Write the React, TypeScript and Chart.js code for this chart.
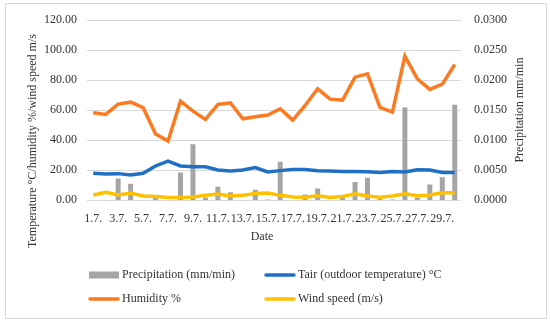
import React, { useEffect, useRef } from "react";
import { Chart, registerables } from "chart.js";

Chart.register(...registerables);

const dates = [
  "1.7.", "2.7.", "3.7.", "4.7.", "5.7.", "6.7.", "7.7.", "8.7.", "9.7.", "10.7.",
  "11.7.", "12.7.", "13.7.", "14.7.", "15.7.", "16.7.", "17.7.", "18.7.", "19.7.", "20.7.",
  "21.7.", "22.7.", "23.7.", "24.7.", "25.7.", "26.7.", "27.7.", "28.7.", "29.7.", "30.7.",
];

const precipitation = [
  0, 0, 0.0036, 0.0027, 0, 0.0004, 0, 0.0046, 0.0093, 0.0004,
  0.0022, 0.0013, 0, 0.0017, 0.0001, 0.0064, 0, 0.0009, 0.0019, 0,
  0.0004, 0.003, 0.0037, 0.0002, 0.0001, 0.01545, 0.0004, 0.0026, 0.0038, 0.0159,
];

const tair = [
  17.8, 17.3, 17.6, 16.7, 17.8, 22.7, 26.0, 22.7, 22.2, 22.2,
  20.0, 19.3, 20.0, 21.6, 18.7, 19.6, 20.4, 20.4, 19.6, 19.3,
  19.1, 19.1, 18.9, 18.4, 19.1, 18.7, 20.2, 20.0, 18.4, 18.4,
];

const humidity = [
  58.2, 57.1, 64.0, 65.3, 61.6, 44.0, 39.3, 66.0, 59.3, 53.8,
  63.8, 64.9, 54.2, 55.6, 56.7, 60.9, 53.3, 63.1, 74.2, 67.3,
  66.7, 82.0, 84.2, 61.8, 58.7, 96.0, 80.9, 73.8, 77.3, 90.4,
];

const windSpeed = [
  3.3, 5.1, 3.3, 4.7, 2.7, 2.4, 1.6, 1.6, 2.0, 3.1,
  4.0, 2.7, 3.1, 4.3, 4.7, 3.1, 2.0, 1.8, 2.9, 1.6,
  2.4, 4.2, 2.7, 1.8, 2.7, 4.2, 2.9, 3.3, 4.9, 4.9,
];

const leftTicks = [0, 20, 40, 60, 80, 100, 120];
const rightTicks = [0, 0.005, 0.01, 0.015, 0.02, 0.025, 0.03];

const FONT = "'Liberation Serif', 'Times New Roman', serif";
const TEXT = "#333333";
const GREY = "#a5a5a5";
const BLUE = "#1f70c4";
const ORANGE = "#fb7b22";
const YELLOW = "#ffc000";

const overlay = {
  id: "overlay",
  beforeDraw(chart: any) {
    const ctx = chart.ctx;
    ctx.save();
    ctx.fillStyle = "#ffffff";
    ctx.fillRect(0, 0, chart.width, chart.height);
    ctx.restore();
  },
  afterDraw(chart: any) {
    const ctx = chart.ctx;
    const area = chart.chartArea;
    ctx.save();
    // outer frame
    ctx.strokeStyle = "#d9d9d9";
    ctx.lineWidth = 1;
    ctx.strokeRect(5.5, 3.5, 541, 315);

    ctx.fillStyle = TEXT;
    ctx.font = `12px ${FONT}`;
    ctx.textAlign = "center";
    ctx.textBaseline = "middle";

    // left axis title
    ctx.save();
    ctx.translate(33, 141);
    ctx.rotate(-Math.PI / 2);
    ctx.fillText("Temperature °C/humidity %/wind speed m/s", 0, 0);
    ctx.restore();

    // right axis title
    ctx.save();
    ctx.translate(520, (area.top + area.bottom) / 2);
    ctx.rotate(-Math.PI / 2);
    ctx.fillText("Precipitation mm/min", 0, 0);
    ctx.restore();

    // x axis title
    ctx.fillText("Date", 262, 237);

    // legend
    const cols = [89, 265];
    const rows = [275, 299];
    const ds = chart.data.datasets;
    ds.forEach((d: any, i: number) => {
      const x = cols[i % 2];
      const y = rows[Math.floor(i / 2)];
      if (d.type === "line") {
        ctx.strokeStyle = d.borderColor;
        ctx.lineWidth = 3.5;
        ctx.lineCap = "round";
        ctx.beginPath();
        ctx.moveTo(x + 1, y);
        ctx.lineTo(x + 29, y);
        ctx.stroke();
      } else {
        ctx.fillStyle = d.backgroundColor;
        ctx.fillRect(x, y - 3.5, 30, 7);
      }
      ctx.fillStyle = TEXT;
      ctx.textAlign = "left";
      ctx.fillText(d.label, x + 33, y);
    });
    ctx.restore();
  },
};

export default function App() {
  const ref = useRef<HTMLCanvasElement | null>(null);

  useEffect(() => {
    if (!ref.current) return;
    const chart = new Chart(ref.current, {
      type: "bar",
      data: {
        labels: dates,
        datasets: [
          {
            type: "bar",
            label: "Precipitation (mm/min)",
            data: precipitation,
            backgroundColor: GREY,
            yAxisID: "y1",
            order: 2,
            categoryPercentage: 1,
            barPercentage: 0.4,
          } as any,
          {
            type: "line",
            label: "Tair (outdoor temperature) °C",
            data: tair,
            borderColor: BLUE,
            backgroundColor: BLUE,
            borderWidth: 3.5,
            pointRadius: 0,
            tension: 0,
            yAxisID: "y",
            order: 0,
          },
          {
            type: "line",
            label: "Humidity %",
            data: humidity,
            borderColor: ORANGE,
            backgroundColor: ORANGE,
            borderWidth: 3.5,
            pointRadius: 0,
            tension: 0,
            yAxisID: "y",
            order: 0,
          },
          {
            type: "line",
            label: "Wind speed (m/s)",
            data: windSpeed,
            borderColor: YELLOW,
            backgroundColor: YELLOW,
            borderWidth: 3.5,
            pointRadius: 0,
            tension: 0,
            yAxisID: "y",
            order: 0,
          },
        ],
      },
      options: {
        responsive: false,
        animation: false,
        layout: { padding: { top: 20, bottom: 93, left: 0, right: 0 } },
        plugins: { legend: { display: false }, tooltip: { enabled: false } },
        scales: {
          x: {
            offset: true,
            grid: { display: false, drawTicks: false },
            border: { display: false },
            ticks: {
              autoSkip: false,
              maxRotation: 0,
              minRotation: 0,
              padding: 12,
              color: TEXT,
              font: { family: FONT, size: 12 },
              callback: (_v: any, i: number) => (i % 2 === 0 ? dates[i] : ""),
            },
            afterFit: (s: any) => {
              s.height = 30;
            },
          },
          y: {
            position: "left",
            min: leftTicks[0],
            max: leftTicks[leftTicks.length - 1],
            afterBuildTicks: (s: any) => {
              s.ticks = leftTicks.map((v) => ({ value: v }));
            },
            grid: { color: "#d9d9d9", lineWidth: 1, drawTicks: false },
            border: { display: false },
            ticks: {
              padding: 10,
              color: TEXT,
              font: { family: FONT, size: 12 },
              callback: (v: any) => Number(v).toFixed(2),
            },
            afterFit: (s: any) => {
              s.width = 87;
            },
          },
          y1: {
            position: "right",
            min: rightTicks[0],
            max: rightTicks[rightTicks.length - 1],
            afterBuildTicks: (s: any) => {
              s.ticks = rightTicks.map((v) => ({ value: v }));
            },
            grid: { display: false, drawTicks: false },
            border: { display: false },
            ticks: {
              padding: 13,
              color: TEXT,
              font: { family: FONT, size: 12 },
              callback: (v: any) => Number(v).toFixed(4),
            },
            afterFit: (s: any) => {
              s.width = 89;
            },
          },
        },
      },
      plugins: [overlay],
    });
    return () => chart.destroy();
  }, []);

  return (
    <div style={{ position: "fixed", left: 0, top: 0, width: 550, height: 323, background: "#fff" }}>
      <canvas ref={ref} width={550} height={323} style={{ display: "block", width: 550, height: 323 }} />
    </div>
  );
}
